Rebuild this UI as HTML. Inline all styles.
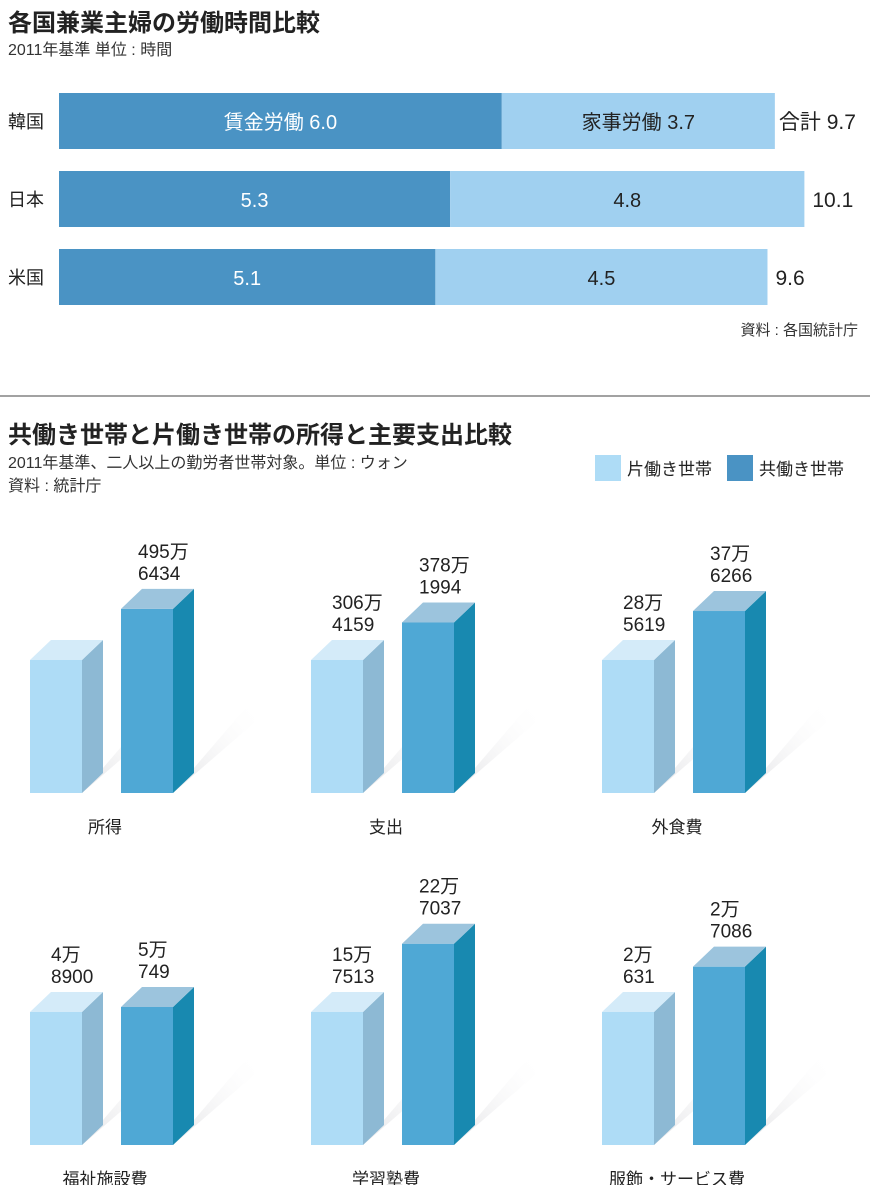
<!DOCTYPE html>
<html><head><meta charset="utf-8"><style>
body{margin:0;background:#fff;}
svg text{font-family:"Liberation Sans","Noto Sans CJK JP",sans-serif;}
</style></head><body>
<svg width="870" height="1185" viewBox="0 0 870 1185" xmlns="http://www.w3.org/2000/svg">
<defs>
<linearGradient id="sh" x1="0" y1="1" x2="1" y2="0"><stop offset="0" stop-color="#d4d4d8" stop-opacity="0.9"/><stop offset="1" stop-color="#ffffff" stop-opacity="0"/></linearGradient>
</defs>
<text x="8" y="31" font-size="24" font-weight="bold" fill="#222">各国兼業主婦の労働時間比較</text>
<text x="8" y="55" font-size="16" fill="#333">2011年基準  単位 : 時間</text>
<g id="hbars"></g>
<text x="858" y="335" font-size="15" fill="#333" text-anchor="end">資料 : 各国統計庁</text>
<line x1="0" y1="396" x2="870" y2="396" stroke="#444" stroke-width="1"/>
<text x="8" y="443" font-size="24" font-weight="bold" fill="#222">共働き世帯と片働き世帯の所得と主要支出比較</text>
<text x="8" y="468" font-size="16" fill="#333">2011年基準、二人以上の勤労者世帯対象。単位 : ウォン</text>
<text x="8" y="491" font-size="16" fill="#333">資料 : 統計庁</text>
<g>
<rect x="595" y="455" width="26" height="26" fill="#aedcf6"/>
<text x="627" y="475" font-size="17" fill="#222">片働き世帯</text>
<rect x="727" y="455" width="26" height="26" fill="#4a93c4"/>
<text x="759" y="475" font-size="17" fill="#222">共働き世帯</text>
</g>
<g id="vbars"></g>
</svg>
<script>
const countries=["韓国","日本","米国"];
const paidWork=[6.0,5.3,5.1];
const houseWork=[3.7,4.8,4.5];
const totals=["9.7","10.1","9.6"];

const categories=["所得","支出","外食費","福祉施設費","学習塾費","服飾・サービス費"];
const singleValues=[3580000,2950000,275000,48900,150000,20200];
const dualValues=[4956434,3781994,376266,50749,227037,27086];
const singleLabels=[null,["306万","4159"],["28万","5619"],["4万","8900"],["15万","7513"],["2万","631"]];
const dualLabels=[["495万","6434"],["378万","1994"],["37万","6266"],["5万","749"],["22万","7037"],["2万","7086"]];

const NS="http://www.w3.org/2000/svg";
function mk(tag,attrs,parent,txt){const e=document.createElementNS(NS,tag);for(const k in attrs)e.setAttribute(k,attrs[k]);if(txt!=null)e.textContent=txt;parent.appendChild(e);return e;}

const hg=document.getElementById('hbars');
const x0=59,pxPerHour=73.8,rowY=[93,171,249],rowH=56;
const xs=v=>x0+v*pxPerHour;
countries.forEach((c,i)=>{
  const y=rowY[i];
  const t=mk('text',{x:8,y:y+rowH/2+7,'font-size':18,fill:'#222'},hg,c);
  
  
  const a=mk('rect',{x:x0,y:y,width:xs(paidWork[i])-x0,height:rowH,fill:'#4a93c4'},hg);
  
  
  const b=mk('rect',{x:xs(paidWork[i]),y:y,width:xs(paidWork[i]+houseWork[i])-xs(paidWork[i]),height:rowH,fill:'#a0d0f0'},hg);
  
  
  const cx1=(x0+xs(paidWork[i]))/2, cx2=(xs(paidWork[i])+xs(paidWork[i]+houseWork[i]))/2;
  const l1=mk('text',{x:cx1,y:y+rowH/2+8,'font-size':20,fill:'#fff','text-anchor':'middle'},hg,(i==0?'賃金労働 ':'')+paidWork[i].toFixed(1));
  
  
  const l2=mk('text',{x:cx2,y:y+rowH/2+8,'font-size':20,fill:'#222','text-anchor':'middle'},hg,(i==0?'家事労働 ':'')+houseWork[i].toFixed(1));
  
  
  const tt=mk('text',{x:xs(paidWork[i]+houseWork[i])+(i==0?4:8),y:y+rowH/2+8,'font-size':21,fill:'#222'},hg,(i==0?'合計 ':'')+totals[i]);
  
  
});

const vg=document.getElementById('vbars');
const groupX=[30,311,602],baseY=[793,1145],refH=133,W=52,D=21,DY=20;
function bar3d(x,base,h,cols,parent,name){
  const g=mk('g',{},parent);
  
  
  const top=base-h;
  mk('rect',{x:x,y:top,width:W,height:h,fill:cols[0]},g);
  mk('polygon',{points:`${x+W},${top} ${x+W+D},${top-DY} ${x+W+D},${base-DY} ${x+W},${base}`,fill:cols[1]},g);
  mk('polygon',{points:`${x},${top} ${x+D},${top-DY} ${x+W+D},${top-DY} ${x+W},${top}`,fill:cols[2]},g);
  return top;
}
function shadow(x,base,parent){
  const s=mk('polygon',{points:`${x+W},${base-5} ${x+W+D},${base-25} ${x+W+D+60},${base-95} ${x+W+D+60},${base-70} ${x+W},${base+0}`,fill:'url(#sh)',opacity:0.75},parent);
  
  
}
categories.forEach((cat,i)=>{
  const gx=groupX[i%3], base=baseY[Math.floor(i/3)];
  const hS=refH, hD=refH*dualValues[i]/singleValues[i];
  const grp=mk('g',{},vg);
  
  
  shadow(gx,base,grp);
  shadow(gx+91,base,grp);
  const tS=bar3d(gx,base,hS,['#aedcf6','#8db9d4','#d4ebf9'],grp,'single-income-bar');
  const tD=bar3d(gx+91,base,hD,['#4fa8d5','#1889b0','#9cc4dd'],grp,'dual-income-bar');
  if(singleLabels[i]){
    const t=mk('text',{x:gx+21,y:tS-DY-31,'font-size':19,fill:'#222'},grp);
    
    
    mk('tspan',{x:gx+21,dy:0},t,singleLabels[i][0]);
    mk('tspan',{x:gx+21,dy:22},t,singleLabels[i][1]);
  }
  const t2=mk('text',{x:gx+108,y:tD-DY-31,'font-size':19,fill:'#222'},grp);
  
  
  mk('tspan',{x:gx+108,dy:0},t2,dualLabels[i][0]);
  mk('tspan',{x:gx+108,dy:22},t2,dualLabels[i][1]);
  const cl=mk('text',{x:gx+75,y:base+40,'font-size':17,fill:'#222','text-anchor':'middle'},grp,cat);
  
  
});
</script>
</body></html>
